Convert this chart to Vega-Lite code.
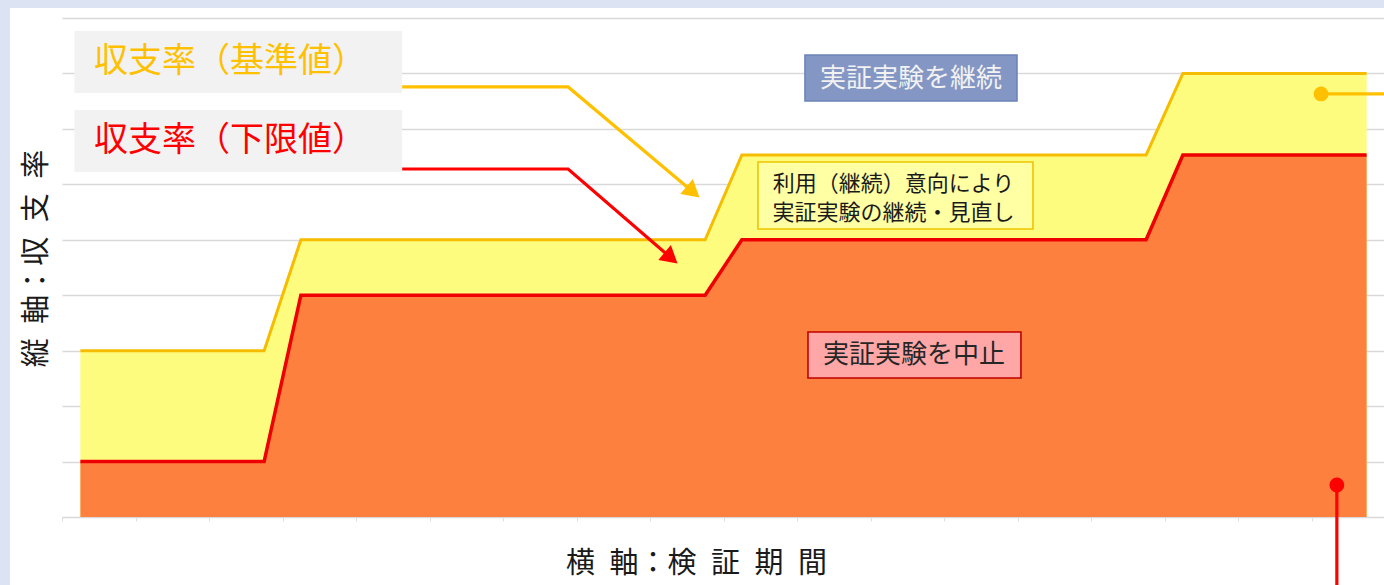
{
  "$schema": "https://vega.github.io/schema/vega-lite/v6.json",
  "width": 1323,
  "height": 499,
  "autosize": {"type": "none"},
  "padding": {"left": 62, "top": 18, "right": 0, "bottom": 68},
  "background": "#ffffff",
  "config": {
    "view": {"stroke": null},
    "font": "Noto Sans CJK JP",
    "axis": {"titleFont": "Noto Sans CJK JP", "titleFontWeight": "normal", "titleColor": "#1a1a1a"}
  },
  "datasets": {
    "steps": [
      {"x": 0, "upper": 3, "lower": 1},
      {"x": 5, "upper": 3, "lower": 1},
      {"x": 6, "upper": 5, "lower": 4},
      {"x": 17, "upper": 5, "lower": 4},
      {"x": 18, "upper": 6.53, "lower": 5},
      {"x": 29, "upper": 6.53, "lower": 5},
      {"x": 30, "upper": 8, "lower": 6.53},
      {"x": 35, "upper": 8, "lower": 6.53}
    ],
    "frame": [
      {"x": -2.6, "x2": -1.916, "y": -2, "y2": 10},
      {"x": -2.6, "x2": 37, "y": 9.181, "y2": 10}
    ],
    "legendBoxes": [
      {"x": -0.163, "x2": 8.757, "y": 8.766, "y2": 7.648},
      {"x": -0.163, "x2": 8.757, "y": 7.341, "y2": 6.223}
    ],
    "legendTexts": [
      {"x": 0.37, "y": 8.207, "label": "収支率（基準値）", "series": "基準値"},
      {"x": 0.37, "y": 6.782, "label": "収支率（下限値）", "series": "下限値"}
    ],
    "connectors": [
      {"series": "基準値", "id": "a", "o": 1, "x": 8.757, "y": 7.756},
      {"series": "基準値", "id": "a", "o": 2, "x": 13.272, "y": 7.756},
      {"series": "基準値", "id": "a", "o": 3, "x": 16.671, "y": 5.862},
      {"series": "下限値", "id": "b", "o": 1, "x": 8.757, "y": 6.277},
      {"series": "下限値", "id": "b", "o": 2, "x": 13.272, "y": 6.277},
      {"series": "下限値", "id": "b", "o": 3, "x": 16.073, "y": 4.672},
      {"series": "基準値", "id": "c", "o": 1, "x": 33.76, "y": 7.63},
      {"series": "基準値", "id": "c", "o": 2, "x": 36.5, "y": 7.63},
      {"series": "下限値", "id": "d", "o": 1, "x": 34.19, "y": 0.577},
      {"series": "下限値", "id": "d", "o": 2, "x": 34.19, "y": -1.6}
    ],
    "arrows": [
      {"series": "基準値", "x": 16.671, "y": 5.862},
      {"series": "下限値", "x": 16.073, "y": 4.672}
    ],
    "dots": [
      {"series": "基準値", "x": 33.76, "y": 7.63},
      {"series": "下限値", "x": 34.19, "y": 0.577}
    ],
    "boxes": [
      {"kind": "継続", "x": 19.717, "x2": 25.486, "y": 8.333, "y2": 7.504},
      {"kind": "見直し", "x": 18.438, "x2": 25.921, "y": 6.403, "y2": 5.195},
      {"kind": "中止", "x": 19.799, "x2": 25.594, "y": 3.337, "y2": 2.507}
    ],
    "bigTexts": [
      {"kind": "継続", "x": 22.6, "y": 7.9, "label": "実証実験を継続"},
      {"kind": "中止", "x": 22.683, "y": 2.922, "label": "実証実験を中止"}
    ],
    "smallTexts": [
      {"kind": "見直し", "x": 22.125, "y": 6.0, "label": "利用（継続）意向により"},
      {"kind": "見直し", "x": 22.125, "y": 5.48, "label": "実証実験の継続・見直し"}
    ]
  },
  "layer": [
    {
      "data": {"name": "steps"},
      "mark": {"type": "area", "color": "#fefc7e"},
      "encoding": {
        "x": {
          "field": "x", "type": "quantitative",
          "scale": {"domain": [-0.5, 35.5], "nice": false, "zero": false},
          "axis": {
            "values": [-0.5,0.5,1.5,2.5,3.5,4.5,5.5,6.5,7.5,8.5,9.5,10.5,11.5,12.5,13.5,14.5,15.5,16.5,17.5,18.5,19.5,20.5,21.5,22.5,23.5,24.5,25.5,26.5,27.5,28.5,29.5,30.5,31.5,32.5,33.5,34.5,35.5],
            "labels": false, "grid": false,
            "domainColor": "#d9d9d9", "tickColor": "#e0e0e0", "tickSize": 4,
            "title": "横\u2002軸：検\u2002証\u2002期\u2002間",
            "titleFontSize": 29, "titleX": 634, "titleY": 46,
            "titleBaseline": "middle", "titleAlign": "center"
          }
        },
        "y": {
          "field": "upper", "type": "quantitative",
          "scale": {"domain": [0, 9], "nice": false, "zero": false},
          "axis": {
            "values": [0,1,2,3,4,5,6,7,8,9],
            "labels": false, "ticks": false, "domain": false,
            "grid": true, "gridColor": "#d9d9d9", "gridWidth": 1.3,
            "title": "縦\u2002軸：収\u2002支\u2002率",
            "titleFontSize": 29, "titleAngle": 270, "titleX": -26, "titleY": 240,
            "titleBaseline": "middle", "titleAlign": "center"
          }
        }
      }
    },
    {
      "data": {"name": "steps"},
      "mark": {"type": "area", "color": "#fd803f"},
      "encoding": {
        "x": {"field": "x", "type": "quantitative"},
        "y": {"field": "lower", "type": "quantitative"}
      }
    },
    {
      "data": {"name": "steps"},
      "mark": {"type": "line", "color": "#f5bc00", "strokeWidth": 3},
      "encoding": {
        "x": {"field": "x", "type": "quantitative"},
        "y": {"field": "upper", "type": "quantitative"}
      }
    },
    {
      "data": {"name": "steps"},
      "mark": {"type": "line", "color": "#ee0000", "strokeWidth": 3.5},
      "encoding": {
        "x": {"field": "x", "type": "quantitative"},
        "y": {"field": "lower", "type": "quantitative"}
      }
    },
    {
      "data": {"name": "frame"},
      "mark": {"type": "rect", "color": "#dce3f3"},
      "encoding": {
        "x": {"field": "x", "type": "quantitative"},
        "x2": {"field": "x2"},
        "y": {"field": "y", "type": "quantitative"},
        "y2": {"field": "y2"}
      }
    },
    {
      "data": {"name": "legendBoxes"},
      "mark": {"type": "rect", "color": "#f2f2f2"},
      "encoding": {
        "x": {"field": "x", "type": "quantitative"},
        "x2": {"field": "x2"},
        "y": {"field": "y", "type": "quantitative"},
        "y2": {"field": "y2"}
      }
    },
    {
      "data": {"name": "connectors"},
      "mark": {"type": "line", "strokeWidth": 3.2},
      "encoding": {
        "x": {"field": "x", "type": "quantitative"},
        "y": {"field": "y", "type": "quantitative"},
        "detail": {"field": "id"},
        "order": {"field": "o"},
        "color": {"field": "series", "type": "nominal", "scale": {"domain": ["基準値", "下限値"], "range": ["#ffc000", "#ff0000"]}, "legend": null}
      }
    },
    {
      "data": {"name": "arrows"},
      "mark": {"type": "point", "shape": "triangle-right", "filled": true, "opacity": 1, "size": 380, "angle": 40},
      "encoding": {
        "x": {"field": "x", "type": "quantitative"},
        "y": {"field": "y", "type": "quantitative"},
        "color": {"field": "series", "type": "nominal", "legend": null}
      }
    },
    {
      "data": {"name": "dots"},
      "mark": {"type": "point", "shape": "circle", "filled": true, "opacity": 1, "size": 220},
      "encoding": {
        "x": {"field": "x", "type": "quantitative"},
        "y": {"field": "y", "type": "quantitative"},
        "color": {"field": "series", "type": "nominal", "legend": null}
      }
    },
    {
      "data": {"name": "legendTexts"},
      "mark": {"type": "text", "align": "left", "baseline": "middle", "fontSize": 34, "font": "Noto Sans CJK JP"},
      "encoding": {
        "x": {"field": "x", "type": "quantitative"},
        "y": {"field": "y", "type": "quantitative"},
        "text": {"field": "label"},
        "color": {"field": "series", "type": "nominal", "legend": null}
      }
    },
    {
      "data": {"name": "boxes"},
      "mark": {"type": "rect", "strokeWidth": 1.6},
      "encoding": {
        "x": {"field": "x", "type": "quantitative"},
        "x2": {"field": "x2"},
        "y": {"field": "y", "type": "quantitative"},
        "y2": {"field": "y2"},
        "fill": {"field": "kind", "type": "nominal", "scale": {"domain": ["継続", "見直し", "中止"], "range": ["#8497c4", "#ffffa4", "#ffa6a6"]}, "legend": null},
        "stroke": {"field": "kind", "type": "nominal", "scale": {"domain": ["継続", "見直し", "中止"], "range": ["#6c84b8", "#f0c400", "#c00000"]}, "legend": null}
      }
    },
    {
      "data": {"name": "bigTexts"},
      "mark": {"type": "text", "align": "center", "baseline": "middle", "fontSize": 26, "font": "Noto Sans CJK JP"},
      "encoding": {
        "x": {"field": "x", "type": "quantitative"},
        "y": {"field": "y", "type": "quantitative"},
        "text": {"field": "label"},
        "fill": {"field": "kind", "type": "nominal", "scale": {"domain": ["継続", "中止"], "range": ["#f2f2f2", "#262626"]}, "legend": null}
      }
    },
    {
      "data": {"name": "smallTexts"},
      "mark": {"type": "text", "align": "center", "baseline": "middle", "fontSize": 22, "font": "Noto Sans CJK JP", "color": "#1a1a1a"},
      "encoding": {
        "x": {"field": "x", "type": "quantitative"},
        "y": {"field": "y", "type": "quantitative"},
        "text": {"field": "label"}
      }
    }
  ],
  "resolve": {"scale": {"fill": "independent", "stroke": "independent"}}
}
